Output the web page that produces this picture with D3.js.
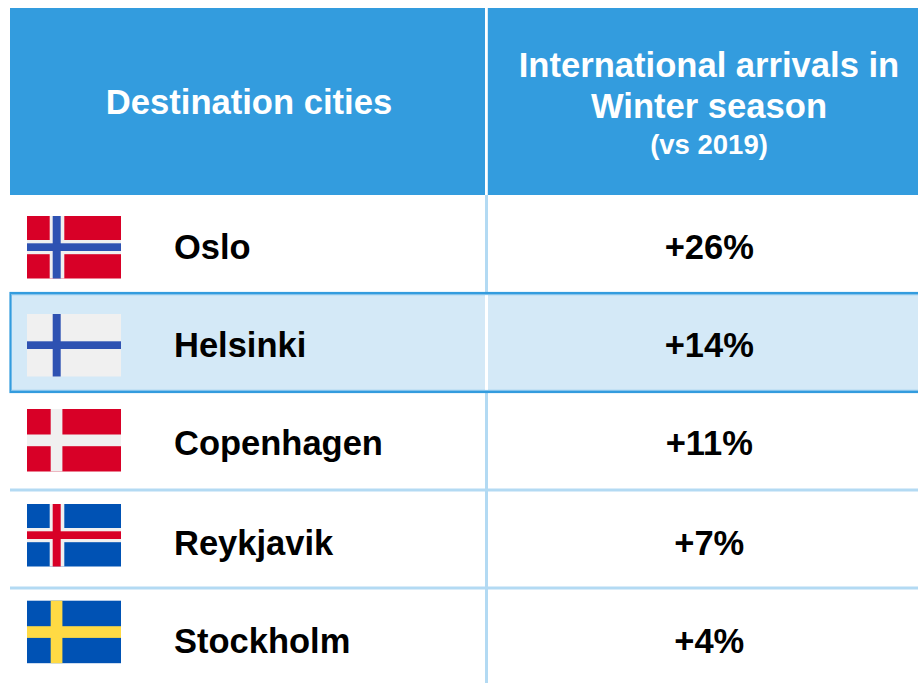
<!DOCTYPE html>
<html><head><meta charset="utf-8">
<script src="https://cdn.jsdelivr.net/npm/d3@7"></script>
<style>html,body{margin:0;padding:0;background:#fff;overflow:hidden}svg{display:block;font-family:"Liberation Sans",Arial,sans-serif;font-weight:bold}</style>
</head><body><svg id="c" width="918" height="683"></svg>
<script>
const cities = ["Oslo","Helsinki","Copenhagen","Reykjavik","Stockholm"];
const changes = ["+26%","+14%","+11%","+7%","+4%"];
const flagField = ["#d80027","#f0f0f0","#d80027","#0052b4","#0052b4"];
const flagBorder = ["#f0f0f0",null,null,"#f0f0f0",null];
const flagCross = ["#2e52b2","#2e52b2","#f0f0f0","#d80027","#ffda44"];
const highlighted = "Helsinki";
const headerLeft = ["Destination cities"];
const headerRight = ["International arrivals in","Winter season"];
const headerNote = "(vs 2019)";

const svg = d3.select("#c");
const blue = "#339cde", pale = "#b3daf3", fill = "#d4e9f7";
const textY = d3.scaleOrdinal().domain(cities).range([247,345,443,543,641]);
const flagY = d3.scaleOrdinal().domain(cities).range([216,314,409,504,600.7]);
const ruleY = d3.scaleOrdinal().domain(cities).range([293,392,490,588,700]);
const flagX = d3.scaleLinear().domain([0,1]).range([27,121]);
const flagH = 62.5, flagW = flagX(1)-flagX(0);

// header
svg.append("rect").attr("x",10).attr("y",8).attr("width",908).attr("height",187).attr("fill",blue);
svg.append("rect").attr("x",485).attr("y",8).attr("width",2.8).attr("height",187).attr("fill","#fff");
svg.append("text").attr("x",249).attr("y",114).attr("text-anchor","middle").attr("fill","#fff").attr("font-size",34.6).text(headerLeft[0]);
svg.selectAll(".hr").data(headerRight).join("text").attr("class","hr")
  .attr("x",709).attr("y",(d,i)=>77+i*41).attr("text-anchor","middle").attr("fill","#fff").attr("font-size",34.6).text(d=>d);
svg.append("text").attr("x",709).attr("y",154).attr("text-anchor","middle").attr("fill","#fff").attr("font-size",27.5).text(headerNote);

// divider and row rules
svg.append("rect").attr("x",485).attr("y",195).attr("width",3).attr("height",488).attr("fill",pale);
svg.selectAll(".rule").data(cities.slice(2,4)).join("rect").attr("class","rule")
  .attr("x",10).attr("width",908).attr("height",3).attr("y",d=>ruleY(d)-1.5).attr("fill",pale);

// highlight band
const hiTop = ruleY(cities[cities.indexOf(highlighted)-1]), hiBot = ruleY(highlighted);
svg.append("rect").attr("x",10.5).attr("y",hiTop).attr("width",912).attr("height",hiBot-hiTop)
  .attr("fill",fill).attr("stroke",blue).attr("stroke-width",2.2);
svg.selectAll(".inner").data([hiTop+1,hiBot-2.2]).join("rect").attr("class","inner")
  .attr("x",11.5).attr("width",907).attr("y",d=>d).attr("height",1.2).attr("fill","#84c3ec");
svg.append("rect").attr("x",485).attr("y",hiTop+2.2).attr("width",3).attr("height",hiBot-hiTop-4.4).attr("fill","#fff");

const row = svg.selectAll(".row").data(cities).join("g").attr("class","row")
  .attr("transform",d=>`translate(0,${flagY(d)})`);

// flags
row.append("rect").attr("x",flagX(0)).attr("y",0).attr("width",flagW).attr("height",flagH)
  .attr("fill",(d,i)=>flagField[i]);
row.filter((d,i)=>flagBorder[i]).each(function(d){
  const i = cities.indexOf(d), g = d3.select(this);
  g.append("rect").attr("x",49.7).attr("width",14.6).attr("y",0).attr("height",flagH).attr("fill",flagBorder[i]);
  g.append("rect").attr("x",flagX(0)).attr("width",flagW).attr("y",24).attr("height",14.2).attr("fill",flagBorder[i]);
});
const thin = i => flagBorder[i]||i===1;
row.append("rect").attr("x",(d,i)=>thin(i)?52.7:50.7).attr("width",(d,i)=>thin(i)?8:11.7).attr("y",0).attr("height",flagH).attr("fill",(d,i)=>flagCross[i]);
row.append("rect").attr("x",flagX(0)).attr("width",flagW).attr("y",(d,i)=>thin(i)?27.3:25.5).attr("height",(d,i)=>thin(i)?7.7:11.7).attr("fill",(d,i)=>flagCross[i]);

// text
const ty = d=>textY(d)+12;
svg.selectAll(".city").data(cities).join("text").attr("class","city").attr("x",174).attr("y",ty).attr("fill","#000").attr("font-size",34.5).text(d=>d);
svg.selectAll(".val").data(cities).join("text").attr("class","val").attr("x",709.3).attr("y",ty).attr("text-anchor","middle").attr("fill","#000").attr("font-size",34.5).text((d,i)=>changes[i]);
</script></body></html>
